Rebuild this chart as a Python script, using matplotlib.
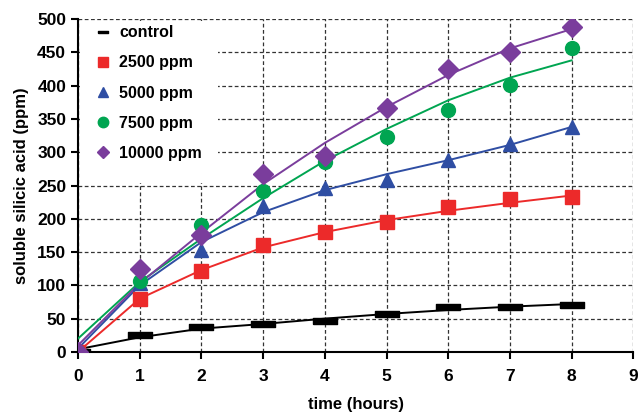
import numpy as np
import matplotlib.pyplot as plt
from matplotlib.lines import Line2D
from matplotlib.patches import Rectangle

# measured points (hours vs ppm)
hours = [0, 1, 2, 3, 4, 5, 6, 7, 8]
control = [0, 25, 38, 42, 46, 57, 67, 68, 71]
ppm2500 = [0, 80, 122, 161, 180, 195, 218, 229, 232]
ppm5000 = [0, 103, 153, 219, 247, 258, 289, 312, 338]
ppm7500 = [0, 106, 191, 242, 285, 323, 364, 401, 456]
ppm10000 = [0, 124, 176, 267, 295, 367, 425, 450, 488]

# trend curves
fit_control = [4, 22, 35, 42, 50, 57, 63, 68, 72]
fit_2500 = [0, 80, 123, 157, 180, 198, 212, 224, 235]
fit_5000 = [5, 100, 165, 210, 243, 267, 288, 311, 338]
fit_7500 = [20, 105, 170, 231, 287, 335, 378, 412, 438]
fit_10000 = [10, 103, 179, 252, 314, 368, 416, 456, 485]

labels = ['control', '2500 ppm', '5000 ppm', '7500 ppm', '10000 ppm']
colors = ['black', '#ec2a2a', '#2f4ea3', '#00a551', '#7a3d9c']

plt.rcParams['font.family'] = ['Liberation Sans', 'DejaVu Sans']
plt.rcParams['font.weight'] = 'bold'

fig = plt.figure(figsize=(6.42, 4.15), dpi=100)
ax = fig.add_axes([0.1215, 0.152, 0.865, 0.802])

# bar-shaped marker for control
bar = [(-1, -0.27), (1, -0.27), (1, 0.27), (-1, 0.27), (-1, -0.27)]

fits = [fit_control, fit_2500, fit_5000, fit_7500, fit_10000]
for f, c in zip(fits, colors):
    ax.plot(hours, f, color=c, lw=1.4, zorder=3)

ax.plot(hours, control, ls='none', marker=bar, ms=17, color='black', zorder=4)
ax.plot(hours, ppm2500, ls='none', marker='s', ms=10, color=colors[1], zorder=4)
ax.plot(hours, ppm5000, ls='none', marker='^', ms=10.5, color=colors[2], zorder=4)
ax.plot(hours, ppm7500, ls='none', marker='o', ms=10, color=colors[3], zorder=4)
ax.plot(hours, ppm10000, ls='none', marker='D', ms=10, color=colors[4], zorder=4)

# white block behind the legend hides the grid there
ax.add_patch(Rectangle((0.004, 0.508), 0.248, 0.485, transform=ax.transAxes,
                       facecolor='white', edgecolor='none', zorder=1.5))

handles = [
    Line2D([], [], ls='none', marker=bar, ms=6.5, color='black'),
    Line2D([], [], ls='none', marker='s', ms=7, color=colors[1]),
    Line2D([], [], ls='none', marker='^', ms=7.5, color=colors[2]),
    Line2D([], [], ls='none', marker='o', ms=7.5, color=colors[3]),
    Line2D([], [], ls='none', marker='D', ms=6, color=colors[4]),
]
leg = ax.legend(handles, labels, loc='upper left', frameon=False,
                fontsize=11.5, handlelength=1.0, handletextpad=0.55,
                labelspacing=0.95, borderaxespad=0.3,
                bbox_to_anchor=(0.01, 1.015))

ax.set_xlim(0, 9)
ax.set_ylim(0, 500)
ax.set_xticks(range(0, 10))
ax.set_yticks(range(0, 501, 50))
ax.grid(True, color='#333333', ls=(0, (3, 2)), lw=0.9)
ax.set_axisbelow(True)

for s in ['top', 'right']:
    ax.spines[s].set_visible(False)
ax.spines['left'].set_linewidth(1.5)
ax.spines['bottom'].set_linewidth(1.5)
ax.tick_params(direction='out', length=5, width=1.5, labelsize=12.5)
ax.tick_params(axis='x', pad=7)

ax.set_xlabel('time (hours)', fontsize=12, fontweight='bold', labelpad=10)
ax.set_ylabel('soluble silicic acid (ppm)', fontsize=12, fontweight='bold', labelpad=6)

plt.savefig('out.png', dpi=100)
